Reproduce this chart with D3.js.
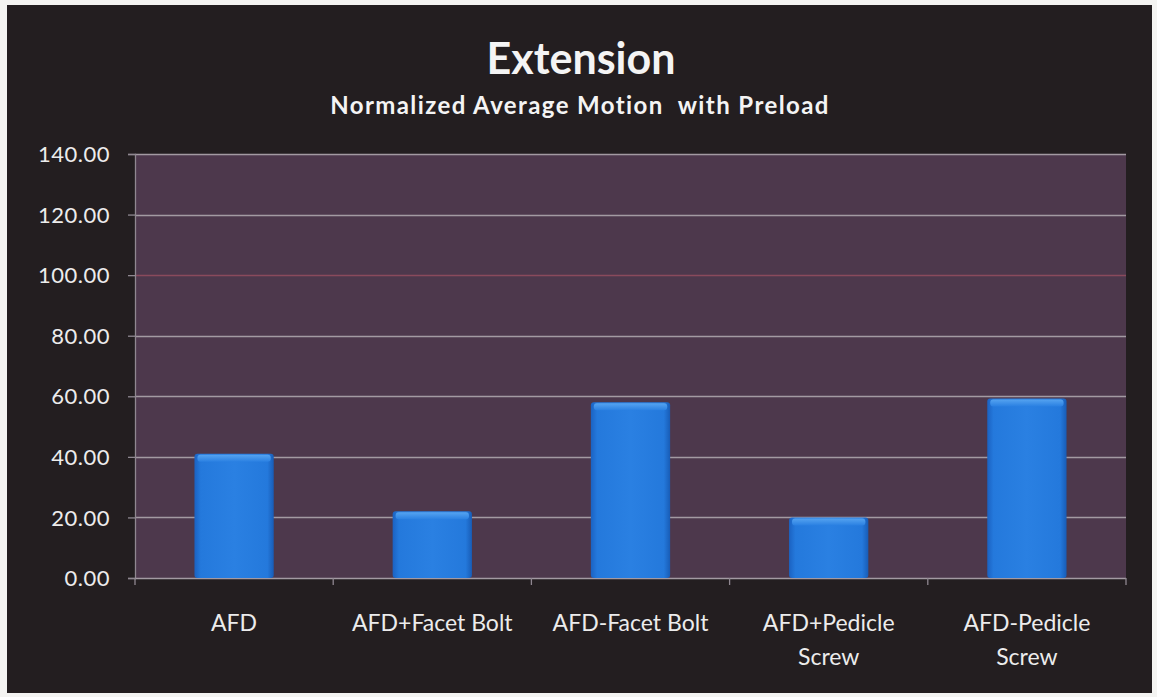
<!DOCTYPE html>
<html><head><meta charset="utf-8">
<script src="https://cdn.jsdelivr.net/npm/d3@7"></script>
<style>
html,body{margin:0;padding:0;background:#f4f4f2;}
svg{display:block;}
</style></head>
<body>
<script>
const categories = [["AFD"],["AFD+Facet Bolt"],["AFD-Facet Bolt"],["AFD+Pedicle","Screw"],["AFD-Pedicle","Screw"]];
const values = [41.0, 22.0, 58.0, 20.0, 59.3];
const yTicks = [0,20,40,60,80,100,120,140];
const title = "Extension";
const subtitle = "Normalized Average Motion  with Preload";

const W = 1157, H = 697;
const svg = d3.select("body").append("svg").attr("width", W).attr("height", H);
const font = "Lato, 'Open Sans', sans-serif";

const defs = svg.append("defs");
const g1 = defs.append("linearGradient").attr("id","barH").attr("x1","0").attr("x2","1").attr("y1","0").attr("y2","0");
g1.append("stop").attr("offset","0").attr("stop-color","#1b62c2");
g1.append("stop").attr("offset","0.08").attr("stop-color","#2479dc");
g1.append("stop").attr("offset","0.5").attr("stop-color","#2a80e2");
g1.append("stop").attr("offset","0.92").attr("stop-color","#2479dc");
g1.append("stop").attr("offset","1").attr("stop-color","#185cb6");
const g2 = defs.append("linearGradient").attr("id","barTop").attr("x1","0").attr("x2","0").attr("y1","0").attr("y2","1");
g2.append("stop").attr("offset","0").attr("stop-color","#55a3f0");
g2.append("stop").attr("offset","1").attr("stop-color","#2a80e2");

// outer dark panel
svg.append("rect").attr("x",7).attr("y",5).attr("width",1145).attr("height",688).attr("fill","#231e20");

const m = {left:135, right:1126, top:154, bottom:578};
const x = d3.scaleBand().domain(d3.range(categories.length)).range([m.left, m.right]).paddingInner(0.6).paddingOuter(0.3);
const xStep = d3.scaleBand().domain(d3.range(categories.length)).range([m.left, m.right]).padding(0);
const y = d3.scaleLinear().domain([0,140]).range([m.bottom, m.top]);

// plot area
svg.append("rect").attr("x",m.left).attr("y",m.top).attr("width",m.right-m.left).attr("height",m.bottom-m.top).attr("fill","#4d384c");

// gridlines
svg.append("g").selectAll("line").data(yTicks.filter(d=>d>0)).join("line")
  .attr("x1",m.left).attr("x2",m.right)
  .attr("y1",d=>Math.round(y(d))+0.5).attr("y2",d=>Math.round(y(d))+0.5)
  .attr("stroke",d=>d===100?"#8a4a5c":"#a39aa2").attr("stroke-width",1.3);

// y axis
const yAxis = d3.axisLeft(y).tickValues(yTicks).tickFormat(d3.format(".2f")).tickSize(7).tickPadding(18);
const ya = svg.append("g").attr("transform",`translate(${m.left},0)`).call(yAxis);
ya.select(".domain").attr("stroke","#8f8790").attr("stroke-width",1.3);
ya.selectAll(".tick line").attr("stroke","#8f8790").attr("stroke-width",1.3);
ya.selectAll(".tick text").attr("fill","#ececec").attr("font-family",font).attr("font-size",22).attr("letter-spacing",0.5).attr("dy","0.35em");

// x axis line & ticks between categories
const xa = svg.append("g");
xa.append("line").attr("x1",m.left).attr("x2",m.right).attr("y1",m.bottom+0.5).attr("y2",m.bottom+0.5).attr("stroke","#a39aa2").attr("stroke-width",1.5);
xa.selectAll("line.t").data(d3.range(categories.length+1)).join("line").attr("class","t")
  .attr("x1",i=>i<categories.length?xStep(i):m.right).attr("x2",i=>i<categories.length?xStep(i):m.right)
  .attr("y1",m.bottom).attr("y2",m.bottom+7).attr("stroke","#8f8790").attr("stroke-width",1.3);

// bars
const bars = svg.append("g").selectAll("g").data(values).join("g");
bars.append("rect")
  .attr("x",(d,i)=>x(i)).attr("y",d=>y(d)).attr("width",x.bandwidth()).attr("height",d=>y(0)-y(d))
  .attr("rx",3).attr("fill","url(#barH)");
bars.append("rect")
  .attr("x",(d,i)=>x(i)+3).attr("y",d=>y(d)+1).attr("width",x.bandwidth()-6).attr("height",7)
  .attr("rx",3).attr("fill","url(#barTop)");

// x labels
const lab = svg.append("g").selectAll("text").data(categories).join("text")
  .attr("x",(d,i)=>xStep(i)+xStep.bandwidth()/2).attr("y",631)
  .attr("text-anchor","middle").attr("fill","#ececec").attr("font-family",font).attr("font-size",23);
lab.selectAll("tspan").data(d=>d).join("tspan")
  .attr("x",function(){return d3.select(this.parentNode).attr("x");})
  .attr("dy",(d,j)=>j===0?0:34).text(d=>d);

// titles
svg.append("text").attr("x",581).attr("y",74).attr("text-anchor","middle").attr("fill","#f4f4f4")
  .attr("font-family",font).attr("font-weight","bold").attr("font-size",43).text(title);
svg.append("text").attr("x",580).attr("y",114).attr("text-anchor","middle").attr("fill","#f4f4f4")
  .style("white-space","pre")
  .attr("font-family",font).attr("font-weight","bold").attr("font-size",24).attr("letter-spacing",1.4).text(subtitle);
</script>
</body></html>
